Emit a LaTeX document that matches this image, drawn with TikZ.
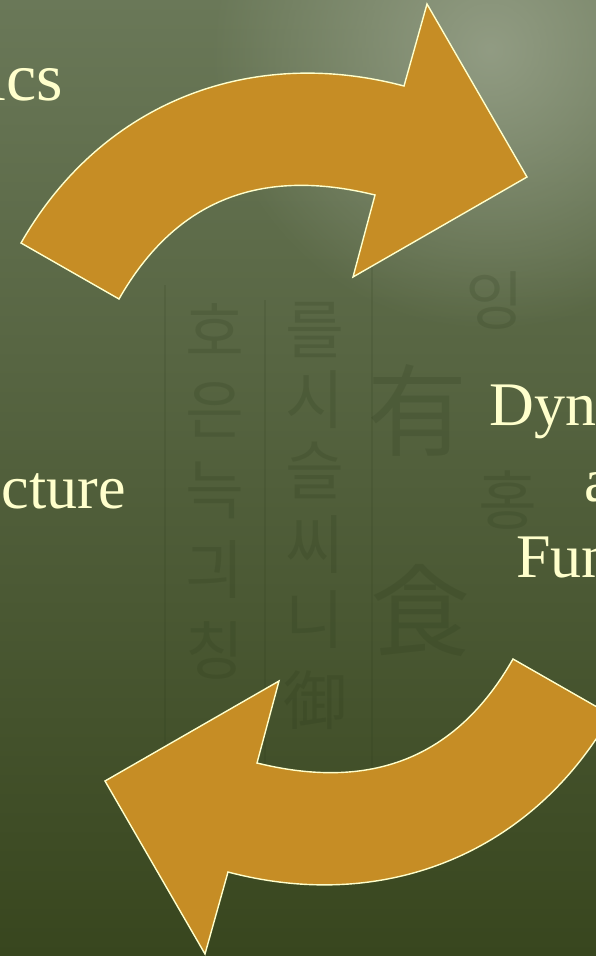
\documentclass[tikz,border=0pt]{standalone}
\usepackage{fontspec}
\setmainfont{Liberation Serif}
\newfontfamily\krfont{Noto Sans CJK KR}
\usetikzlibrary{fadings}
\tikzfading[name=glowfade, inner color=transparent!0, outer color=transparent!100]
\definecolor{bgtop}{RGB}{106,120,88}
\definecolor{bgmid}{RGB}{84,99,62}
\definecolor{bgbot}{RGB}{56,70,30}
\definecolor{hilite}{RGB}{150,160,136}
\definecolor{arrowfill}{RGB}{198,141,37}
\definecolor{cream}{RGB}{255,255,204}
\definecolor{inkc}{RGB}{35,50,20}
\begin{document}
\begin{tikzpicture}[x=1pt,y=-1pt,
  arrowshape/.style={fill=arrowfill, draw=cream, line width=1.4pt, line join=miter},
  lbl/.style={text=cream, font=\fontsize{62}{74}\selectfont, inner sep=0pt},
  ghost/.style={text=inkc, opacity=0.16, font=\krfont\fontsize{64}{64}\selectfont, inner sep=0pt},
  ghostbig/.style={ghost, font=\krfont\fontsize{100}{100}\selectfont},
  ghostline/.style={draw=inkc, opacity=0.12, line width=2pt}]
\useasboundingbox (0,0) rectangle (596,956);
\clip (0,0) rectangle (596,956);
% background
\shade[top color=bgtop, middle color=bgmid, bottom color=bgbot] (0,0) rectangle (596,956);
\fill[hilite, path fading=glowfade, opacity=0.9] (490,50) circle[radius=280pt];
% faint scanned text in the background
\draw[ghostline] (165,285) -- (165,810);
\draw[ghostline] (372,250) -- (372,800);
\draw[ghostline] (265,300) -- (265,800);
\node[ghost] (g1) at (215,330) {호};
\node[ghost] (g2) at (215,410) {은};
\node[ghost] (g3) at (215,490) {늑};
\node[ghost] (g4) at (215,570) {긔};
\node[ghost] (g5) at (215,650) {칭};
\node[ghost] (g6) at (315,330) {를};
\node[ghost] (g7) at (315,400) {시};
\node[ghost] (g8) at (315,470) {슬};
\node[ghost] (g9) at (315,545) {씨};
\node[ghost] (g10) at (315,620) {니};
\node[ghost] (g11) at (315,700) {御};
\node[ghost] (g12) at (495,300) {잉};
\node[ghostbig] (g13) at (417,410) {有};
\node[ghost] (g14) at (508,500) {홍};
\node[ghostbig] (g15) at (420,610) {食};
% labels
\node[lbl, anchor=base east, font=\fontsize{68}{80}\selectfont] (t1) at (63,100) {ics};
\node[lbl, anchor=base east] (t2) at (126,508) {Structure};
\node[lbl, anchor=base west] (t3) at (489.7,425) {Dynamics};
\node[lbl, anchor=base west] (t4) at (584.7,501) {and};
\node[lbl, anchor=base west] (t5) at (516,577) {Function};
% top arrow
\draw[arrowshape] (21,243) .. controls (100.7,103.5) and (248.6,44.9) .. (404,86)
  -- (427,4) -- (527,177) -- (353,277) -- (375,195)
  .. controls (262.4,167.3) and (176.5,198.3) .. (119,299) -- cycle;
% bottom arrow (same shape turned half a turn)
\begin{scope}[rotate around={180:(316,479)}]
\draw[arrowshape] (21,243) .. controls (100.7,103.5) and (248.6,44.9) .. (404,86)
  -- (427,4) -- (527,177) -- (353,277) -- (375,195)
  .. controls (262.4,167.3) and (176.5,198.3) .. (119,299) -- cycle;
\end{scope}
\end{tikzpicture}
\end{document}
